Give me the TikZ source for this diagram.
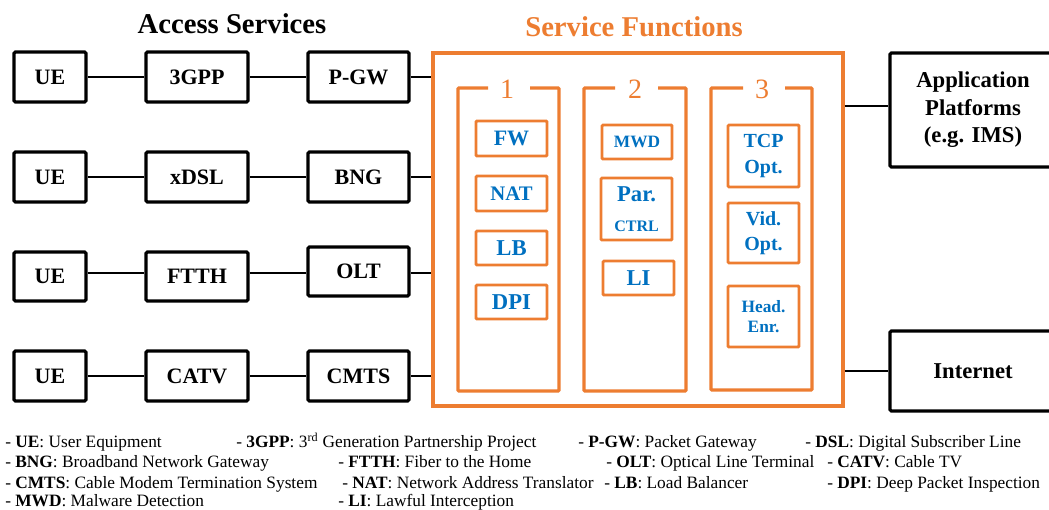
\documentclass[tikz,border=0pt]{standalone}
\usepackage{fontspec}
\setmainfont{Liberation Serif}
\definecolor{sforange}{HTML}{ED7D31}
\definecolor{sfblue}{HTML}{0070C0}
\newcommand{\fsz}[2]{\fontsize{#1}{#2}\selectfont}
% \boxat[style]{name}{x1}{y1}{x2}{y2}{text}: a box spanning two corner points
\newcommand{\boxat}[7][]{%
  \node[#1, minimum width={(#5-#3)*0.75pt}, minimum height={(#6-#4)*0.75pt}]
    (#2) at ({(#3+#5)/2},{(#4+#6)/2}) {#7};}

\begin{document}
\begin{tikzpicture}[x=0.75pt, y=-0.75pt,
  blackbox/.style={draw, line width=2.4pt, rounded corners=1pt, inner sep=0pt,
                   align=center, font=\fsz{16.5}{20.5}\bfseries},
  link/.style={line width=1.7pt},
  sfframe/.style={draw=sforange, line width=2.5pt},
  sfbox/.style={draw=sforange, line width=2.2pt, rounded corners=0.8pt, inner sep=0pt,
                align=center, text=sfblue},
  heading/.style={inner sep=0pt, font=\fsz{21.5}{26}\bfseries},
  collabel/.style={inner sep=0pt, text=sforange, font=\fsz{21}{25}},
  legend/.style={anchor=base west, inner sep=0pt, font=\fsz{13}{16}}
]
\useasboundingbox (0,0) rectangle (1049,510);

% headings
\node[heading] (acc) at (232,24) {Access Services};
\node[heading, text=sforange] (sft) at (634,27) {Service Functions};

% access chains
\boxat[blackbox]{ue1}{14}{52}{86}{102}{UE}
\boxat[blackbox]{gpp}{146}{52}{248}{102}{3GPP}
\boxat[blackbox]{pgw}{308}{52}{409}{102}{P-GW}

\boxat[blackbox]{ue2}{14}{152}{86}{202}{UE}
\boxat[blackbox]{xdsl}{146}{152}{248}{202}{xDSL}
\boxat[blackbox]{bng}{308}{152}{409}{202}{BNG}

\boxat[blackbox]{ue3}{14}{252}{86}{301}{UE}
\boxat[blackbox]{ftth}{146}{252}{248}{301}{FTTH}
\boxat[blackbox]{olt}{308}{247}{409}{296}{OLT}

\boxat[blackbox]{ue4}{14}{351}{86}{401}{UE}
\boxat[blackbox]{catv}{146}{351}{248}{401}{CATV}
\boxat[blackbox]{cmts}{308}{351}{409}{401}{CMTS}

% service function frame
\boxat[sfframe, inner sep=0pt]{sf}{433}{53}{843}{406}{}

% function groups (open at the top for the group number)
\node[collabel] (g1) at (507,89) {1};
\node[collabel] (g2) at (635,89) {2};
\node[collabel] (g3) at (762,89) {3};
\draw[sfframe, rounded corners=0.8pt] (488,88) -| (458,391) -| (559,88) -- (530,88);
\draw[sfframe, rounded corners=0.8pt] (615,88) -| (584,391) -| (686,88) -- (658,88);
\draw[sfframe, rounded corners=0.8pt] (743,88) -| (711,390) -| (812,88) -- (785,88);

% group 1
\boxat[sfbox, font=\fsz{16.5}{20}\bfseries]{fw}{476}{121}{547}{156}{FW}
\boxat[sfbox, font=\fsz{15.5}{19}\bfseries]{nat}{476}{176}{547}{211}{NAT}
\boxat[sfbox, font=\fsz{17}{20}\bfseries]{lb}{476}{231}{547}{265}{LB}
\boxat[sfbox, font=\fsz{17}{20}\bfseries]{dpi}{476}{285}{547}{319}{DPI}

% group 2
\boxat[sfbox, font=\fsz{13}{16}\bfseries]{mwd}{602}{125}{672}{159}{MWD}
\boxat[sfbox, font=\fsz{17}{21}\bfseries]{par}{601}{178}{672}{240}%
  {Par.\\[1pt]{\fsz{12}{14}\bfseries CTRL}}
\boxat[sfbox, font=\fsz{17}{20}\bfseries]{li}{603}{261}{674}{295}{LI}

% group 3
\boxat[sfbox, font=\fsz{15}{19}\bfseries]{tcp}{728}{125}{799}{187}{TCP\\Opt.}
\boxat[sfbox, font=\fsz{15}{19}\bfseries]{vid}{728}{203}{799}{263}{Vid.\\Opt.}
\boxat[sfbox, font=\fsz{13}{15}\bfseries]{head}{728}{286}{799}{347}{Head.\\Enr.}

% upstream platforms
\boxat[blackbox, font=\fsz{17}{20.6}\bfseries]{app}{890}{53}{1056}{167}%
  {Application\\Platforms\\(e.g. IMS)}
\boxat[blackbox, font=\fsz{17}{20.6}\bfseries]{inet}{890}{331}{1056}{411}{Internet}

% links
\coordinate (r3)  at (0,273);
\coordinate (rap) at (0,106);
\draw[link] (ue1) -- (gpp);   \draw[link] (gpp) -- (pgw);
\draw[link] (pgw.east) -- (pgw.east -| sf.west);
\draw[link] (ue2) -- (xdsl);  \draw[link] (xdsl) -- (bng);
\draw[link] (bng.east) -- (bng.east -| sf.west);
\draw[link] (ue3.east |- r3) -- (ftth.west |- r3);
\draw[link] (ftth.east |- r3) -- (olt.west |- r3);
\draw[link] (olt.east |- r3) -- (sf.west |- r3);
\draw[link] (ue4) -- (catv);  \draw[link] (catv) -- (cmts);
\draw[link] (cmts.east) -- (cmts.east -| sf.west);
\draw[link] (sf.east |- rap) -- (app.west |- rap);
\draw[link] (sf.east |- inet.west) -- (inet.west);

% abbreviations
\node[legend] (l1)  at (5,447)   {- \textbf{UE}: User Equipment};
\node[legend] (l2)  at (236,447) {- \textbf{3GPP}: 3\textsuperscript{rd} Generation Partnership Project};
\node[legend] (l3)  at (578,447) {- \textbf{P-GW}: Packet Gateway};
\node[legend] (l4)  at (805,447) {- \textbf{DSL}: Digital Subscriber Line};
\node[legend] (l5)  at (5,467)   {- \textbf{BNG}: Broadband Network Gateway};
\node[legend] (l6)  at (338,467) {- \textbf{FTTH}: Fiber to the Home};
\node[legend] (l7)  at (606,467) {- \textbf{OLT}: Optical Line Terminal};
\node[legend] (l8)  at (827,467) {- \textbf{CATV}: Cable TV};
\node[legend] (l9)  at (5,488)   {- \textbf{CMTS}: Cable Modem Termination System};
\node[legend] (l10) at (342,488) {- \textbf{NAT}: Network Address Translator};
\node[legend] (l11) at (604,488) {- \textbf{LB}: Load Balancer};
\node[legend] (l12) at (827,488) {- \textbf{DPI}: Deep Packet Inspection};
\node[legend] (l13) at (5,506)   {- \textbf{MWD}: Malware Detection};
\node[legend] (l14) at (338,506) {- \textbf{LI}: Lawful Interception};
\end{tikzpicture}
\end{document}
